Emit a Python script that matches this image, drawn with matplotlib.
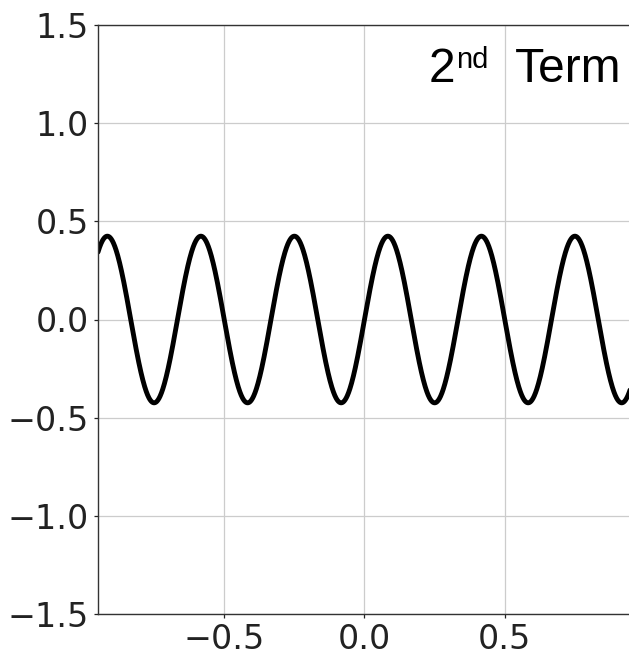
#!/usr/bin/env python3
"""Second term of the square-wave Fourier series, single panel."""

import matplotlib

matplotlib.use("Agg")
import matplotlib.pyplot as plt
import numpy as np

# Fourier-series term shown in the panel (square wave, harmonic n=3)
TERM_NUMBER = "2"
TERM_SUFFIX = "nd"
TERM_WORD = "Term"
HARMONIC = 3
COEFFICIENT = 4.0 / (HARMONIC * np.pi)
FUNDAMENTAL = 2.0 * np.pi  # rad per unit x
X_RANGE = (-0.95, 0.95)
Y_RANGE = (-1.5, 1.5)
X_TICKS = [-0.5, 0.0, 0.5]
Y_TICKS = [-1.5, -1.0, -0.5, 0.0, 0.5, 1.0, 1.5]

W, H = 629, 655

x = np.linspace(X_RANGE[0], X_RANGE[1], 2000)
y = COEFFICIENT * np.sin(HARMONIC * FUNDAMENTAL * x)

fig = plt.figure(figsize=(W / 100, H / 100), dpi=100, facecolor="white")
ax = fig.add_axes([98 / W, 41 / H, 533 / W, 589 / H])
ax.plot(x, y, color="black", linewidth=3.5, solid_capstyle="round")
ax.set_xlim(*X_RANGE)
ax.set_ylim(*Y_RANGE)
ax.set_xticks(X_TICKS)
ax.set_yticks(Y_TICKS)
ax.grid(True, color="#cccccc", linewidth=0.9)
ax.set_axisbelow(True)
for side in ("left", "top", "bottom", "right"):
    ax.spines[side].set_color("#333333")
    ax.spines[side].set_linewidth(1.0)
ax.tick_params(labelsize=24, length=3, width=0.9, colors="#222222", pad=3.5)


def fig_px(px, py):
    return px / W, (H - py) / H


# title pieces placed by baseline in pixel positions
fig.text(*fig_px(429, 82), TERM_NUMBER, fontsize=34.5, family="Liberation Sans", va="baseline", ha="left")
fig.text(*fig_px(456, 68), TERM_SUFFIX, fontsize=21, family="Liberation Sans", va="baseline", ha="left")
fig.text(*fig_px(515, 82), TERM_WORD, fontsize=34.5, family="Liberation Sans", va="baseline", ha="left")

fig.savefig("out.png", dpi=100, facecolor="white")
